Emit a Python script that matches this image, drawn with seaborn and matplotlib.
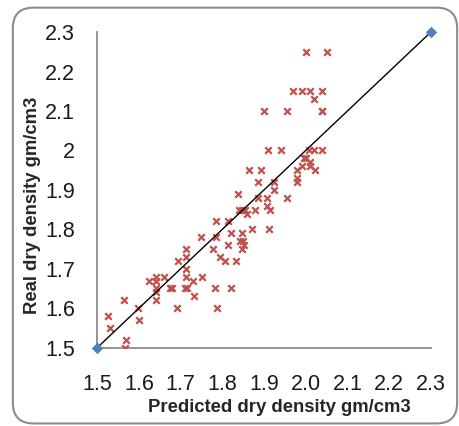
import numpy as np
import pandas as pd
import matplotlib
matplotlib.use("Agg")
import matplotlib.pyplot as plt
from matplotlib.patches import FancyBboxPatch
import seaborn as sns

# predicted vs. real dry density (gm/cm3)
pred = [2.00, 2.05, 1.97, 1.99, 2.01, 2.04, 2.02, 1.90, 1.955, 2.04, 2.04,
        1.91, 1.94, 2.007, 2.02, 2.04, 1.995, 2.00, 2.01, 1.99, 2.01, 2.023,
        1.978, 1.863, 1.892, 1.978, 1.978, 1.886, 1.925, 1.925, 1.837,
        1.886, 1.906, 1.956, 1.906, 1.914, 1.84, 1.848, 1.855, 1.878, 1.858,
        1.785, 1.813, 1.87, 1.912, 1.748, 1.785, 1.82, 1.846, 1.842, 1.85,
        1.852, 1.814, 1.712, 1.778, 1.846, 1.712, 1.794, 1.694, 1.806, 1.832,
        1.712, 1.623, 1.641, 1.641, 1.66, 1.712, 1.75, 1.729, 1.641, 1.642,
        1.674, 1.679, 1.711, 1.716, 1.783, 1.82, 1.732, 1.641, 1.565, 1.691,
        1.788, 1.598, 1.526, 1.53, 1.601, 1.569, 1.566]
real = [2.25, 2.25, 2.15, 2.15, 2.15, 2.15, 2.13, 2.10, 2.10, 2.10, 2.10,
        2.00, 2.00, 2.00, 2.00, 2.00, 1.98, 1.98, 1.97, 1.96, 1.96, 1.95,
        1.95, 1.95, 1.95, 1.93, 1.92, 1.92, 1.92, 1.90, 1.89,
        1.88, 1.88, 1.88, 1.86, 1.85, 1.85, 1.85, 1.85, 1.85, 1.84,
        1.82, 1.82, 1.80, 1.80, 1.78, 1.78, 1.79, 1.79, 1.77, 1.77,
        1.76, 1.76, 1.75, 1.75, 1.75, 1.73, 1.73, 1.72, 1.72, 1.72,
        1.70, 1.67, 1.68, 1.67, 1.68, 1.68, 1.68, 1.67, 1.65, 1.64,
        1.65, 1.65, 1.65, 1.65, 1.65, 1.65, 1.63, 1.62, 1.62, 1.60,
        1.60, 1.60, 1.58, 1.55, 1.57, 1.52, 1.50]

line_x = [1.5, 2.3]
line_y = [1.5, 2.3]

x_ticks = [1.5, 1.6, 1.7, 1.8, 1.9, 2.0, 2.1, 2.2, 2.3]
x_ticklabels = ["1.5", "1.6", "1.7", "1.8", "1.9", "2.0", "2.1", "2.2", "2.3"]
y_ticks = [1.5, 1.6, 1.7, 1.8, 1.9, 2.0, 2.1, 2.2, 2.3]
y_ticklabels = ["1.5", "1.6", "1.7", "1.8", "1.9", "2", "2.1", "2.2", "2.3"]

sns.set_theme(style="white")
plt.rcParams["font.family"] = ["Liberation Sans", "DejaVu Sans"]

df = pd.DataFrame({"pred": pred, "real": real})

fig = plt.figure(figsize=(4.59, 4.26), dpi=100)

# rounded chart-area frame
frame = FancyBboxPatch((0.028, 0.006), 0.968, 0.976,
                       boxstyle="round,pad=0,rounding_size=0.045",
                       mutation_aspect=459 / 426,
                       transform=fig.transFigure, facecolor="none",
                       edgecolor="#8c8c8c", linewidth=1.5, zorder=-1)
fig.patches.append(frame)

ax = fig.add_axes([0.212, 0.184, 0.7264, 0.7404])
ax.set_facecolor("none")

sns.scatterplot(data=df, x="pred", y="real", marker="x", color="#C0504D",
                s=22, linewidth=1.6, ax=ax, zorder=3)
sns.lineplot(x=line_x, y=line_y, color="black", linewidth=1.0,
             marker="D", markersize=5.5, markerfacecolor="#4F81BD",
             markeredgecolor="#4F81BD", ax=ax, zorder=4, clip_on=False)

ax.set_xlim(1.5, 2.3)
ax.set_ylim(1.5, 2.3)
ax.set_xticks(x_ticks)
ax.set_xticklabels(x_ticklabels)
ax.set_yticks(y_ticks)
ax.set_yticklabels(y_ticklabels)
ax.tick_params(axis="x", length=0, pad=19, labelsize=15.5, colors="#1a1a1a")
ax.tick_params(axis="y", length=0, pad=16, labelsize=15.5, colors="#1a1a1a")

for side in ["top", "right"]:
    ax.spines[side].set_visible(False)
for side in ["left", "bottom"]:
    ax.spines[side].set_color("#8c8c8c")
    ax.spines[side].set_linewidth(1.3)

ax.set_xlabel("Predicted dry density gm/cm3", fontsize=13.3, fontweight="bold")
ax.set_ylabel("Real dry density gm/cm3", fontsize=13.3, fontweight="bold")
ax.xaxis.set_label_coords(0.545, -0.19)
ax.yaxis.set_label_coords(-0.195, 0.452)
ax.xaxis.label.set_va("center")
ax.yaxis.label.set_va("center")

fig.savefig("out.png", dpi=100)
